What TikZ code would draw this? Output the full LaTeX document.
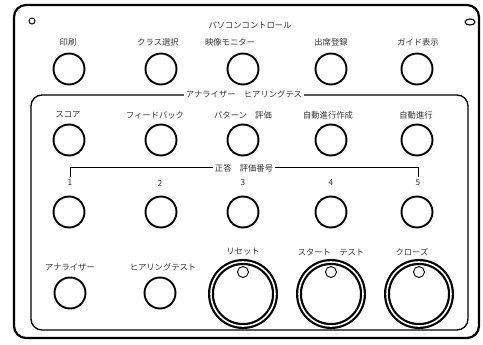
\documentclass[tikz,border=0pt]{standalone}
\usepackage{fontspec}
\usetikzlibrary{shapes.geometric}
\newfontfamily\jp{Noto Sans CJK JP}
\begin{document}
\begin{tikzpicture}[x=1pt,y=-1pt,
  lbl/.style={font=\jp\fontsize{8.3}{9}\selectfont, text=black!80, inner sep=1pt},
  btn/.style={circle, draw, line width=1.9pt, minimum size=31pt, inner sep=0pt},
  knob/.style={circle, draw, line width=2.2pt, minimum size=64pt, inner sep=0pt, double=white, double distance=1.6pt},
  hole/.style={circle, draw, line width=0.9pt, minimum size=11pt, inner sep=0pt},
  panel/.style={draw, line width=2.2pt, rounded corners=12pt},
  sub/.style={draw, line width=1.3pt, rounded corners=11pt}]
\useasboundingbox (0,0) rectangle (483,345);
\draw[panel] (14,5) rectangle (479,338);
\draw[sub] (31,95) rectangle (468,330);
\node[circle, draw, line width=1pt, minimum size=6pt, inner sep=0pt] (pin) at (32,21) {};
\node[ellipse, draw, line width=1.1pt, minimum width=10pt, minimum height=6pt, inner sep=0pt] (slot) at (470,22) {};
% top section
\node[lbl] (ttl) at (250,25) {パソコンコントロール};
\node[lbl] (l11) at (68,42) {印刷};
\node[lbl] (l12) at (158,42) {クラス選択};
\node[lbl] (l13) at (230,42) {映像モニター};
\node[lbl] (l14) at (331,42) {出席登録};
\node[lbl] (l15) at (418,42) {ガイド表示};
\node[btn] (b11) at (69,69) {};
\node[btn] (b12) at (161,69) {};
\node[btn] (b13) at (243,69) {};
\node[btn] (b14) at (331,69) {};
\node[btn] (b15) at (417,69) {};
% analyzer section
\node[lbl, fill=white, inner xsep=2pt] (ttl2) at (244,94) {アナライザー　ヒアリングテス};
\node[lbl] (l21) at (68,115) {スコア};
\node[lbl] (l22) at (155,115) {フィードバック};
\node[lbl] (l23) at (243,115) {パターン　評価};
\node[lbl] (l24) at (328,115) {自動進行作成};
\node[lbl] (l25) at (416,115) {自動進行};
\node[btn] (b21) at (69,140) {};
\node[btn] (b22) at (161,140) {};
\node[btn] (b23) at (243,140) {};
\node[btn] (b24) at (331,140) {};
\node[btn] (b25) at (417,140) {};
% bracket
\coordinate (k1) at (70,177);
\coordinate (k5) at (418,177);
\node[lbl, fill=white, inner xsep=2pt] (ttl3) at (244,168) {正答　評価番号};
\draw[line width=1pt] (k1) |- (ttl3.west);
\draw[line width=1pt] (k5) |- (ttl3.east);
\node[lbl] (l31) at (70,183) {1};
\node[lbl] (l32) at (160,183) {2};
\node[lbl] (l33) at (243,183) {3};
\node[lbl] (l34) at (331,183) {4};
\node[lbl] (l35) at (418,183) {5};
\node[btn] (b31) at (69,212) {};
\node[btn] (b32) at (161,212) {};
\node[btn] (b33) at (243,212) {};
\node[btn] (b34) at (331,212) {};
\node[btn] (b35) at (417,212) {};
% bottom row
\node[lbl] (l41) at (70,267) {アナライザー};
\node[lbl] (l42) at (163,267) {ヒアリングテスト};
\node[lbl] (l43) at (243,252) {リセット};
\node[lbl] (l44) at (331,252) {スタート　テスト};
\node[lbl] (l45) at (412,252) {クローズ};
\node[btn] (b41) at (70,293) {};
\node[btn] (b42) at (160,293) {};
\node[knob] (k41) at (243,294) {};
\node[knob] (k42) at (331,294) {};
\node[knob] (k43) at (419,294) {};
\node[hole] (h1) at (243,272) {};
\node[hole] (h2) at (331,272) {};
\node[hole] (h3) at (419,272) {};
\end{tikzpicture}
\end{document}
